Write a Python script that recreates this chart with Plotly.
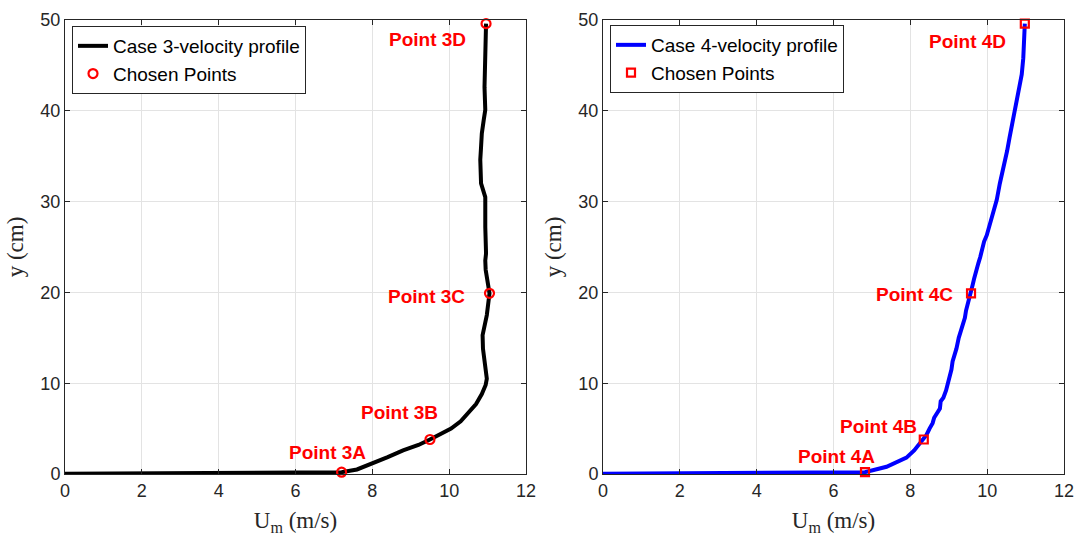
import plotly.graph_objects as go

# ---- Case 3 velocity profile (U_m in m/s, y in cm) ----
case3_u = [0.0, 2.0, 4.0, 6.0, 7.2, 7.6, 8.0, 8.4, 8.8, 9.2, 9.5, 9.8, 10.05, 10.3,
           10.5, 10.7, 10.85, 10.95, 10.98, 10.96, 10.94, 10.88, 10.87, 10.92, 10.98,
           11.05, 11.0, 10.95, 10.94, 10.96, 10.94, 10.94, 10.83, 10.82, 10.81, 10.83,
           10.85, 10.9, 10.94, 10.92, 10.94, 10.96]
case3_y = [0.03, 0.06, 0.1, 0.15, 0.2, 0.5, 1.15, 1.85, 2.6, 3.2, 3.8, 4.4, 5.0, 5.8,
           6.7, 7.7, 8.8, 9.8, 10.5, 11.2, 12.0, 13.8, 15.3, 16.5, 17.5,
           19.9, 21.0, 22.5, 23.5, 24.3, 27.2, 30.5, 32.0, 33.3, 34.6, 36.0,
           37.5, 39.0, 40.1, 42.6, 46.3, 49.6]
case3_pts_u = [7.2, 9.5, 11.05, 10.96]
case3_pts_y = [0.2, 3.8, 19.9, 49.6]
case3_labels = ["Point 3A", "Point 3B", "Point 3C", "Point 3D"]
case3_label_u = [6.84, 8.71, 9.41, 9.43]
case3_label_y = [2.4, 6.8, 19.6, 47.8]

# ---- Case 4 velocity profile (measured, slightly jagged) ----
case4_u = [0.0, 2.0, 4.0, 6.0, 6.82, 7.38, 7.9, 8.1, 8.35, 8.42, 8.5, 8.58, 8.62, 8.7,
           8.77, 8.79, 8.86, 8.93, 8.97, 8.99, 9.04, 9.07, 9.1, 9.16, 9.2, 9.26,
           9.3, 9.38, 9.42, 9.45, 9.52, 9.58, 9.62, 9.66, 9.72, 9.77, 9.82, 9.86,
           9.92, 9.99, 10.06, 10.12, 10.2, 10.25, 10.33, 10.38, 10.46, 10.52, 10.58,
           10.65, 10.72, 10.78, 10.85, 10.88, 10.9, 10.94, 10.96, 10.98]
case4_y = [0.03, 0.06, 0.1, 0.15, 0.2, 0.8, 1.8, 2.6, 3.8, 4.3, 5.0, 5.6, 6.2, 6.8,
           7.2, 8.0, 8.4, 9.2, 9.8, 10.3, 11.0, 11.5, 12.4, 13.2, 13.8, 15.0,
           15.6, 16.4, 17.2, 18.0, 19.0, 19.9, 20.8, 21.5, 22.6, 23.2, 23.9, 24.6,
           25.6, 26.3, 27.4, 28.2, 29.6, 30.2, 32.0, 32.9, 34.2, 35.6, 37.0,
           38.5, 39.9, 41.0, 42.5, 43.3, 44.0, 45.8, 47.5, 49.6]
case4_pts_u = [6.82, 8.35, 9.58, 10.98]
case4_pts_y = [0.2, 3.8, 19.9, 49.6]
case4_labels = ["Point 4A", "Point 4B", "Point 4C", "Point 4D"]
case4_label_u = [6.08, 7.18, 8.11, 9.5]
case4_label_y = [1.9, 5.2, 19.8, 47.6]

x_ticks = [0, 2, 4, 6, 8, 10, 12]
y_ticks = [0, 10, 20, 30, 40, 50]

W, H = 1087, 544
AX = "#262626"
GRID = "#e3e3e3"
TICK_FONT = dict(family="Liberation Sans, Arial, sans-serif", size=18, color=AX)
TITLE_FONT = dict(family="Liberation Serif, Times New Roman, serif", size=23, color=AX)
LABEL_FONT = dict(family="Liberation Sans, Arial, sans-serif", size=19, color="#ff0000")
LEGEND_FONT = dict(family="Liberation Sans, Arial, sans-serif", size=19, color="#000000")


def px_x(p):
    return p / W


def px_y(p):
    return 1 - p / H


fig = go.Figure()

fig.add_trace(go.Scatter(x=case3_u, y=case3_y, mode="lines", name="Case 3-velocity profile",
                         line=dict(color="#000000", width=4), xaxis="x", yaxis="y",
                         legend="legend"))
fig.add_trace(go.Scatter(x=case3_pts_u, y=case3_pts_y, mode="markers", name="Chosen Points",
                         marker=dict(symbol="circle-open", size=9, color="#ff0000",
                                     line=dict(width=2.2, color="#ff0000")),
                         cliponaxis=False, xaxis="x", yaxis="y", legend="legend"))
fig.add_trace(go.Scatter(x=case4_u, y=case4_y, mode="lines", name="Case 4-velocity profile",
                         line=dict(color="#0000ff", width=4), xaxis="x2", yaxis="y2",
                         legend="legend2"))
fig.add_trace(go.Scatter(x=case4_pts_u, y=case4_pts_y, mode="markers", name="Chosen Points",
                         marker=dict(symbol="square-open", size=8, color="#ff0000",
                                     line=dict(width=2.2, color="#ff0000")),
                         cliponaxis=False, xaxis="x2", yaxis="y2", legend="legend2"))

annotations = []
for lab, u, y in zip(case3_labels, case3_label_u, case3_label_y):
    annotations.append(dict(text=f"<b>{lab}</b>", x=u, y=y, xref="x", yref="y",
                            showarrow=False, font=LABEL_FONT, xanchor="center", yanchor="middle"))
for lab, u, y in zip(case4_labels, case4_label_u, case4_label_y):
    annotations.append(dict(text=f"<b>{lab}</b>", x=u, y=y, xref="x2", yref="y2",
                            showarrow=False, font=LABEL_FONT, xanchor="center", yanchor="middle"))


def xaxis(domain, anchor):
    return dict(domain=domain, anchor=anchor, range=[0, 12], tickvals=x_ticks,
                ticktext=[str(v) for v in x_ticks], showgrid=True, gridcolor=GRID, gridwidth=1,
                showline=True, linecolor=AX, linewidth=1, mirror="ticks", ticks="inside",
                ticklen=5, tickcolor=AX, tickfont=TICK_FONT, zeroline=False, automargin=False,
                title=dict(text="U<sub>m</sub> (m/s)", font=TITLE_FONT, standoff=12))


def yaxis(domain, anchor):
    return dict(domain=domain, anchor=anchor, range=[0, 50], tickvals=y_ticks,
                ticktext=[str(v) for v in y_ticks], showgrid=True, gridcolor=GRID, gridwidth=1,
                showline=True, linecolor=AX, linewidth=1, mirror="ticks", ticks="inside",
                ticklen=5, tickcolor=AX, tickfont=TICK_FONT, zeroline=False, automargin=False,
                title=dict(text="y (cm)", font=TITLE_FONT, standoff=10))


ydom = [px_y(474), px_y(20)]
legend_common = dict(bgcolor="#ffffff", bordercolor=AX, borderwidth=1, font=LEGEND_FONT,
                     xanchor="left", yanchor="top", itemwidth=30, tracegroupgap=0,
                     traceorder="normal", itemsizing="trace")

fig.update_layout(
    width=W, height=H,
    margin=dict(l=0, r=0, t=0, b=0, autoexpand=False),
    paper_bgcolor="#ffffff", plot_bgcolor="#ffffff",
    xaxis=xaxis([px_x(65), px_x(526)], "y"),
    yaxis=yaxis(ydom, "x"),
    xaxis2=xaxis([px_x(603), px_x(1064)], "y2"),
    yaxis2=yaxis(ydom, "x2"),
    legend=dict(x=px_x(72), y=px_y(26), **legend_common),
    legend2=dict(x=px_x(610), y=px_y(25), **legend_common),
    annotations=annotations,
    showlegend=True,
)

fig.write_html("out.html")
